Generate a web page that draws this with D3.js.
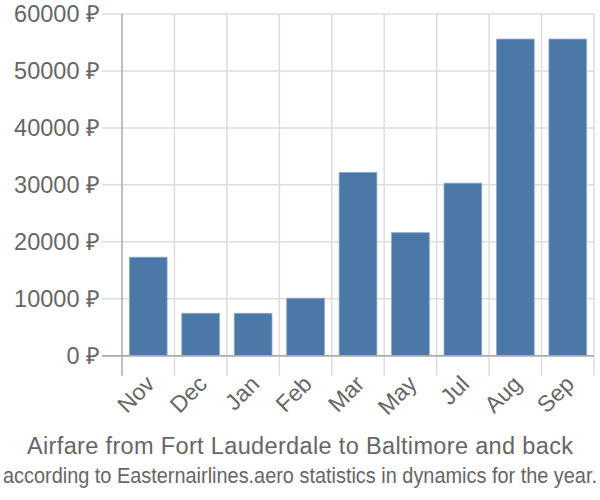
<!DOCTYPE html>
<html><head><meta charset="utf-8">
<script src="https://cdn.jsdelivr.net/npm/d3@7"></script>
<style>body{margin:0;background:#fff}svg{display:block}</style>
</head><body>
<svg id="c" width="600" height="500"></svg>
<script>
const months = ["Nov","Dec","Jan","Feb","Mar","May","Jul","Aug","Sep"];
const prices = [17300, 7450, 7450, 10100, 32200, 21600, 30300, 55600, 55600];
const yTicks = [0,10000,20000,30000,40000,50000,60000];
const title = "Airfare from Fort Lauderdale to Baltimore and back";
const subtitle = "according to Easternairlines.aero statistics in dynamics for the year.";

const svg = d3.select("#c");
const L = 122, R = 594, T = 14, B = 355.7;
const x = d3.scaleBand().domain(months).range([L, R]).paddingInner(0.28).paddingOuter(0.14);
const xg = d3.scaleBand().domain(months).range([L, R]);
const y = d3.scaleLinear().domain([0, 60000]).range([B, T]);
const font = "Liberation Sans, Arial, sans-serif";

svg.append("g").selectAll("line").data(yTicks).join("line")
  .attr("x1", L - 20).attr("x2", R).attr("y1", d => y(d)).attr("y2", d => y(d))
  .attr("stroke", d => d === 0 ? "#aaa" : "#ddd").attr("stroke-width", 1.5);
const vx = months.map(m => xg(m)).concat([R]);
svg.append("g").selectAll("line").data(vx).join("line")
  .attr("x1", d => d).attr("x2", d => d).attr("y1", T).attr("y2", B + 20)
  .attr("stroke", (d,i) => i === 0 ? "#aaa" : "#ddd").attr("stroke-width", 1.5);

svg.append("g").selectAll("rect").data(prices).join("rect")
  .attr("x", (d,i) => x(months[i])).attr("width", x.bandwidth())
  .attr("y", d => y(d)).attr("height", d => B - y(d))
  .attr("fill", "#4c78a8").attr("stroke", "#8eaccd").attr("stroke-width", 0.8);

svg.append("line").attr("x1", L - 20).attr("x2", R).attr("y1", B).attr("y2", B)
  .attr("stroke", "#aaa").attr("stroke-width", 1.5);

svg.append("g").selectAll("text").data(yTicks).join("text")
  .attr("x", L - 22).attr("y", d => y(d)).attr("dy", "0.35em")
  .attr("text-anchor", "end").attr("font-family", font).attr("font-size", 23.5)
  .attr("fill", "#666").text(d => d + " ₽");

svg.append("g").selectAll("text").data(months).join("text")
  .attr("transform", m => `translate(${xg(m) + xg.bandwidth()/2 + 2},${B + 24}) rotate(-45)`)
  .attr("text-anchor", "end").attr("dy", "0.35em")
  .attr("font-family", font).attr("font-size", 23).attr("fill", "#666").text(m => m);

svg.append("text").attr("x", 300).attr("y", 454).attr("text-anchor", "middle")
  .attr("font-family", font).attr("font-size", 23.5).attr("fill", "#666")
  .attr("textLength", 546).attr("lengthAdjust", "spacing").text(title);
svg.append("text").attr("x", 300).attr("y", 483).attr("text-anchor", "middle")
  .attr("font-family", font).attr("font-size", 22.5).attr("fill", "#666")
  .attr("textLength", 594).attr("lengthAdjust", "spacingAndGlyphs").text(subtitle);
</script>
</body></html>
